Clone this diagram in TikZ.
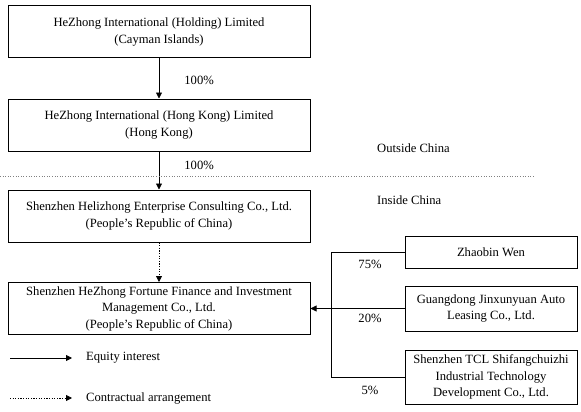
\documentclass[tikz,border=0pt]{standalone}
\usepackage{fontspec}
\setmainfont{Liberation Serif}
\usetikzlibrary{arrows.meta}
\begin{document}
\begin{tikzpicture}[x=1pt,y=-1pt,
  box/.style={draw, line width=1pt, align=center, inner sep=0pt,
    font=\fontsize{12.6}{16.5}\selectfont},
  lbl/.style={inner sep=0pt, font=\fontsize{12.6}{16.5}\selectfont},
  eq/.style={line width=0.8pt, -{Triangle[length=6pt,width=6pt]}},
  ca/.style={eq, dash pattern=on 1.2pt off 1.4pt}]
\useasboundingbox (0,0) rectangle (581,412);

% group boxes
\node[box, minimum width=302pt, minimum height=52pt] (hold) at (159,32)
  {HeZhong International (Holding) Limited\\(Cayman Islands)};
\node[box, minimum width=302pt, minimum height=52pt] (hk) at (159,125)
  {HeZhong International (Hong Kong) Limited\\(Hong Kong)};
\node[box, minimum width=302pt, minimum height=52pt] (wfoe) at (159,216)
  {Shenzhen Helizhong Enterprise Consulting Co., Ltd.\\(People's Republic of China)};
\node[box, minimum width=302pt, minimum height=52pt] (vie) at (159,308.5)
  {Shenzhen HeZhong Fortune Finance and Investment\\Management Co., Ltd.\\(People's Republic of China)};

% shareholders
\node[box, minimum width=172pt, minimum height=32pt] (wen) at (491,252) {Zhaobin Wen};
\node[box, minimum width=172pt, minimum height=45pt] (jxy) at (491,308.5)
  {Guangdong Jinxunyuan Auto\\Leasing Co., Ltd.};
\node[box, minimum width=172pt, minimum height=54pt] (tcl) at (491,377)
  {Shenzhen TCL Shifangchuizhi\\Industrial Technology\\Development Co., Ltd.};

\draw[eq] (hold) -- (hk) node[lbl, pos=0.55, right=25pt] {100\%};
\draw[eq] (hk) -- (wfoe) node[lbl, pos=0.36, right=25pt] {100\%};
\draw[ca] (wfoe) -- (vie);

\draw[line width=0.8pt] (wen.west) -- ++(-73,0) |- (tcl.west);
\draw[eq] (jxy.west) -- (vie.east);
\node[lbl] at (370,264) {75\%};
\node[lbl] at (370,318) {20\%};
\node[lbl] at (370,390) {5\%};

% border line
\draw[gray, line width=0.8pt, dash pattern=on 1pt off 1.6pt] (0,176) -- (535,176);
\node[lbl, anchor=west] at (377,148) {Outside China};
\node[lbl, anchor=west] at (377,200) {Inside China};

% legend
\coordinate (eqa) at (10,358);
\coordinate (eqb) at (72,358);
\coordinate (caa) at (10,398);
\coordinate (cab) at (72,398);
\draw[eq] (eqa) -- (eqb);
\draw[ca] (caa) -- (cab);
\node[lbl, anchor=west] at (86,358) {Equity interest};
\node[lbl, anchor=west] at (86,398) {Contractual arrangement};
\end{tikzpicture}
\end{document}
